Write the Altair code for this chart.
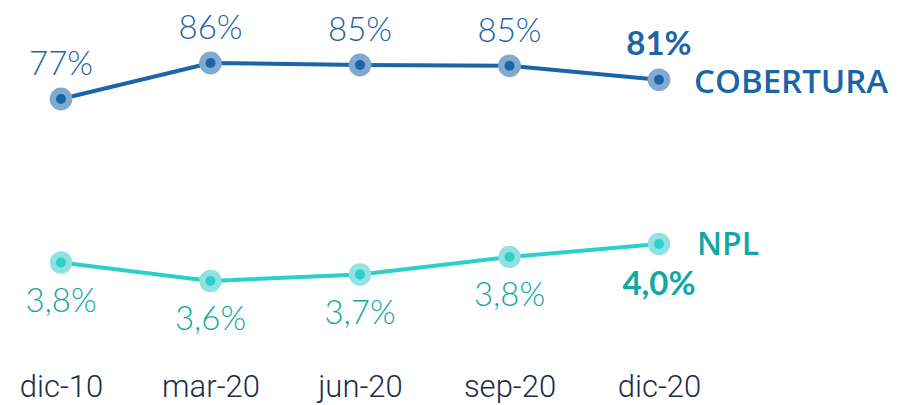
import altair as alt
import pandas as pd

months = ["dic-10", "mar-20", "jun-20", "sep-20", "dic-20"]
cob_values = [77.0, 86.0, 85.5, 85.3, 81.8]
cob_labels = ["77%", "86%", "85%", "85%", "81%"]
npl_values = [3.80, 3.60, 3.67, 3.86, 4.00]
npl_labels = ["3,8%", "3,6%", "3,7%", "3,8%", "4,0%"]

COB_LINE = "#1a64a8"
COB_HALO = "#80aad0"
COB_TEXT = "#1f63a8"
NPL_LINE = "#2dcfcb"
NPL_HALO = "#8fe2e0"
NPL_TEXT = "#12a8a2"

cob = pd.DataFrame({"mes": months, "valor": cob_values, "etiqueta": cob_labels,
                    "last": [False, False, False, False, True]})
npl = pd.DataFrame({"mes": months, "valor": npl_values, "etiqueta": npl_labels,
                    "last": [False, False, False, False, True]})

xscale = alt.Scale(type="point", range=[53, 651], padding=0)
xaxis = alt.Axis(title=None, labelAngle=0, domain=False, ticks=False,
                 grid=False, labelFont="Roboto", labelFontSize=31,
                 labelFontWeight=300, labelColor="#1d2b4b",
                 labelPadding=14, labelBaseline="top")
x_enc = alt.X("mes:N", sort=months, scale=xscale, axis=xaxis)

y_cob = alt.Y("valor:Q", scale=alt.Scale(domain=[77, 86], range=[91, 55], zero=False, nice=False), axis=None)
y_npl = alt.Y("valor:Q", scale=alt.Scale(domain=[3.6, 4.0], range=[273, 236], zero=False, nice=False), axis=None)

# COBERTURA layers
cob_base = alt.Chart(cob)
cob_line = cob_base.mark_line(color=COB_LINE, strokeWidth=4).encode(x=x_enc, y=y_cob)
cob_halo = cob_base.mark_circle(color=COB_HALO, opacity=1, size=520).encode(x=x_enc, y=y_cob)
cob_dot = cob_base.mark_circle(color=COB_LINE, opacity=1, size=100).encode(x=x_enc, y=y_cob)
cob_txt = cob_base.transform_filter("!datum.last").mark_text(
    font="Lato", fontWeight=300, fontSize=33, color=COB_TEXT, baseline="alphabetic", dy=-24
).encode(x=x_enc, y=y_cob, text="etiqueta:N")
cob_txt_b = cob_base.transform_filter("datum.last").mark_text(
    font="Lato", fontWeight="bold", fontSize=33, color=COB_TEXT, baseline="alphabetic", dy=-25
).encode(x=x_enc, y=y_cob, text="etiqueta:N")
cob_name = cob_base.transform_filter("datum.last").mark_text(
    font="Open Sans", fontWeight=600, fontSize=33, color=COB_LINE, align="left",
    baseline="alphabetic", dx=35, dy=13
).encode(x=x_enc, y=y_cob, text=alt.value("COBERTURA"))

# NPL layers
npl_base = alt.Chart(npl)
npl_line = npl_base.mark_line(color=NPL_LINE, strokeWidth=4).encode(x=x_enc, y=y_npl)
npl_halo = npl_base.mark_circle(color=NPL_HALO, opacity=1, size=500).encode(x=x_enc, y=y_npl)
npl_dot = npl_base.mark_circle(color=NPL_LINE, opacity=1, size=100).encode(x=x_enc, y=y_npl)
npl_txt = npl_base.transform_filter("!datum.last").mark_text(
    font="Lato", fontWeight=300, fontSize=33, color=NPL_TEXT, baseline="alphabetic", dy=49
).encode(x=x_enc, y=y_npl, text="etiqueta:N")
npl_txt_b = npl_base.transform_filter("datum.last").mark_text(
    font="Lato", fontWeight="bold", fontSize=33, color=NPL_TEXT, baseline="alphabetic", dy=51
).encode(x=x_enc, y=y_npl, text="etiqueta:N")
npl_name = npl_base.transform_filter("datum.last").mark_text(
    font="Open Sans", fontWeight=600, fontSize=32, color=NPL_TEXT, align="left",
    baseline="alphabetic", dx=38, dy=11
).encode(x=x_enc, y=y_npl, text=alt.value("NPL"))

cob_layer = alt.layer(cob_line, cob_halo, cob_dot, cob_txt, cob_txt_b, cob_name)
npl_layer = alt.layer(npl_line, npl_halo, npl_dot, npl_txt, npl_txt_b, npl_name)

chart = alt.layer(cob_layer, npl_layer).resolve_scale(y="independent").properties(
    width=883, height=350,
    autosize=alt.AutoSizeParams(type="none"),
    padding={"left": 0, "top": 0, "right": 0, "bottom": 47},
    background="white",
).configure_view(stroke=None)

chart.save("out.html", embed_options={"renderer": "svg", "actions": False})
